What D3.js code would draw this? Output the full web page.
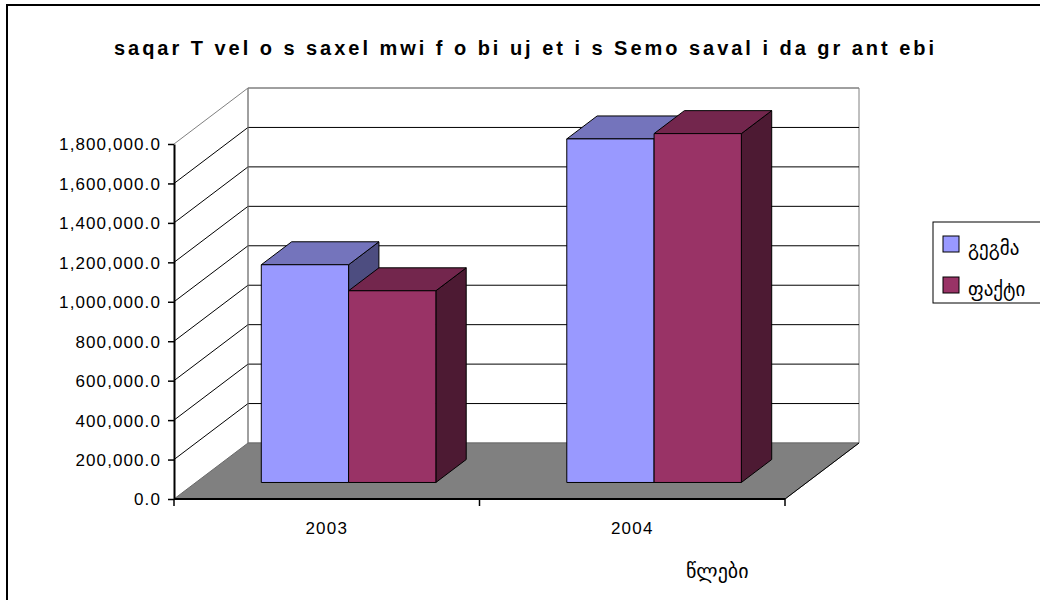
<!DOCTYPE html>
<html>
<head>
<meta charset="utf-8">
<script src="https://cdn.jsdelivr.net/npm/d3@7"></script>
<style>
  body { margin: 0; background: #fff; }
  text { font-family: "Liberation Sans", Arial, sans-serif; }
  .geo { font-family: "DejaVu Sans", sans-serif; }
</style>
</head>
<body>
<svg id="chart"></svg>
<script>
const width = 1040, height = 600;
const svg = d3.select("#chart").attr("width", width).attr("height", height);

// data
const years = ["2003", "2004"];
const series = ["გეგმა", "ფაქტი"];
const plan = [1104000, 1742000];
const fact = [972000, 1769000];
const yTicks = [0, 200000, 400000, 600000, 800000, 1000000, 1200000, 1400000, 1600000, 1800000];
const title = "saqar T vel o s saxel mwi f o bi uj et i s Semo saval i da gr ant ebi";
const xTitle = "წლები";

const colors = {
  "გეგმა": {front: "#9999ff", top: "#7474bc", side: "#4d4d80"},
  "ფაქტი": {front: "#993366", top: "#73264d", side: "#4d1a33"}
};

// 3d depth offsets
const DX = 74, DY = 56;
const d0 = 0.295, d1 = 0.705;

const x = d3.scaleBand().domain(years).range([174, 785]);
const xs = d3.scaleBand().domain(series).range([0, x.bandwidth()]).paddingOuter(0.75);
const y = d3.scaleLinear().domain([0, 1800000]).range([499, 144]);

const P = (px, py, d) => [px + d * DX, py - d * DY];
const poly = pts => "M" + pts.map(p => p.join(",")).join("L") + "Z";

// outer frame
svg.append("rect").attr("x", 7).attr("y", 5).attr("width", 1100).attr("height", 700)
  .attr("fill", "none").attr("stroke", "#000").attr("stroke-width", 2);

// title
svg.append("text").attr("x", 114).attr("y", 55)
  .attr("font-family", "'Liberation Sans Narrow', 'Liberation Sans', Arial, sans-serif")
  .attr("font-size", 20).attr("font-weight", "bold")
  .attr("textLength", 820).attr("lengthAdjust", "spacing")
  .text(title);

const x0 = x.range()[0], x1 = x.range()[1];
const yTop = y(1800000), y0 = y(0);

// back wall
svg.append("path")
  .attr("d", poly([P(x0, yTop, 1), P(x1, yTop, 1), P(x1, y0, 1), P(x0, y0, 1)]))
  .attr("fill", "#fff").attr("stroke", "#808080");

// gridlines
const grid = svg.append("g");
yTicks.filter(t => t > 0 && t < 1800000).forEach(t => {
  const a = P(x0, y(t), 0), b = P(x0, y(t), 1), c = P(x1, y(t), 1);
  grid.append("path").attr("d", `M${a}L${b}L${c}`).attr("fill", "none").attr("stroke", "#000");
});
{
  const a = P(x0, yTop, 0), b = P(x0, yTop, 1), c = P(x1, yTop, 1);
  grid.append("path").attr("d", `M${a}L${b}L${c}`).attr("fill", "none").attr("stroke", "#808080");
  grid.append("line").attr("x1", b[0]).attr("y1", b[1]).attr("x2", P(x0, y0, 1)[0]).attr("y2", P(x0, y0, 1)[1])
    .attr("stroke", "#808080");
}

// floor
svg.append("path")
  .attr("d", poly([P(x0, y0, 0), P(x0, y0, 1), P(x1, y0, 1), P(x1, y0, 0)]))
  .attr("fill", "#808080").attr("stroke", "#6a6a6a");
svg.append("line")
  .attr("x1", P(x1, y0, 0)[0]).attr("y1", P(x1, y0, 0)[1])
  .attr("x2", P(x1, y0, 1)[0]).attr("y2", P(x1, y0, 1)[1])
  .attr("stroke", "#000");

// bars
const rows = [];
years.forEach((yr, i) => {
  rows.push({year: yr, s: series[0], v: plan[i]});
  rows.push({year: yr, s: series[1], v: fact[i]});
});
const bars = svg.append("g").selectAll("g").data(rows).join("g")
  .attr("stroke", "#000").attr("stroke-width", 1).attr("stroke-linejoin", "round");
bars.each(function(d) {
  const g = d3.select(this);
  const l = x(d.year) + xs(d.s), r = l + xs.bandwidth();
  const t = y(d.v), b = y0;
  const c = colors[d.s];
  g.append("path").attr("d", poly([P(r, t, d0), P(r, t, d1), P(r, b, d1), P(r, b, d0)])).attr("fill", c.side);
  g.append("path").attr("d", poly([P(l, t, d0), P(l, t, d1), P(r, t, d1), P(r, t, d0)])).attr("fill", c.top);
  g.append("path").attr("d", poly([P(l, t, d0), P(r, t, d0), P(r, b, d0), P(l, b, d0)])).attr("fill", c.front);
});

// axes
const yAxis = svg.append("g").attr("transform", `translate(${x0},0)`)
  .call(d3.axisLeft(y).tickValues(yTicks).tickFormat(d3.format(",.1f")).tickSize(6).tickSizeOuter(0));
yAxis.select(".domain").attr("stroke", "#000").attr("stroke-width", 2);
yAxis.selectAll(".tick line").attr("stroke", "#000").attr("stroke-width", 1.5);
yAxis.selectAll("text").attr("font-size", 17).attr("font-family", "Liberation Sans, Arial, sans-serif")
  .attr("fill", "#000").attr("letter-spacing", 1.1).attr("x", -13).attr("dy", "0.35em");

const xAxis = svg.append("g").attr("transform", `translate(0,${y0})`);
xAxis.append("line").attr("x1", x0).attr("x2", x1).attr("stroke", "#000").attr("stroke-width", 2);
[x0, ...years.slice(1).map(v => x(v)), x1].forEach(px => {
  xAxis.append("line").attr("x1", px).attr("x2", px).attr("y1", 0).attr("y2", 7).attr("stroke", "#000").attr("stroke-width", 1.5);
});
xAxis.selectAll("text.cat").data(years).join("text").attr("class", "cat")
  .attr("x", d => x(d) + x.bandwidth() / 2).attr("y", 35).attr("text-anchor", "middle")
  .attr("font-size", 17).attr("letter-spacing", 1.2).text(d => d);

svg.append("text").attr("class", "geo").attr("x", 686).attr("y", 578)
  .attr("font-size", 20).text(xTitle);

// legend
const lg = svg.append("g");
lg.append("rect").attr("x", 933).attr("y", 222).attr("width", 120).attr("height", 81)
  .attr("fill", "#fff").attr("stroke", "#000").attr("stroke-width", 1);
series.forEach((s, i) => {
  lg.append("rect").attr("x", 943).attr("y", 236 + i * 41).attr("width", 16).attr("height", 16)
    .attr("fill", colors[s].front).attr("stroke", "#000");
  lg.append("text").attr("class", "geo").attr("x", 968).attr("y", 255 + i * 41)
    .attr("font-size", 19).text(s);
});
</script>
</body>
</html>
